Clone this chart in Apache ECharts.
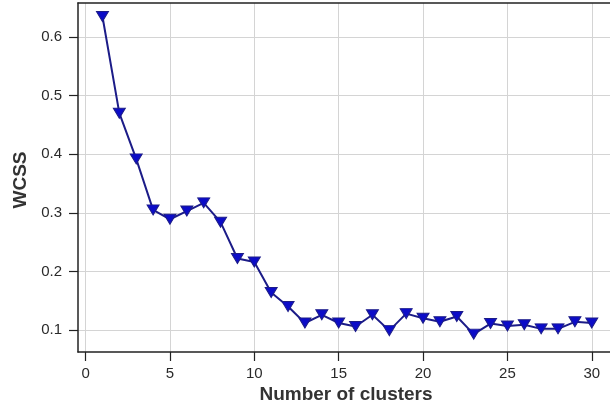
<!DOCTYPE html>
<html>
<head>
<meta charset="utf-8">
<script src="https://cdn.jsdelivr.net/npm/echarts@6/dist/echarts.min.js"></script>
<style>html,body{margin:0;padding:0;background:#fff}#c{width:610px;height:412px}</style>
</head>
<body>
<div id="c"></div>
<script>
const clusters = [1,2,3,4,5,6,7,8,9,10,11,12,13,14,15,16,17,18,19,20,21,22,23,24,25,26,27,28,29,30];
const wcss = [0.635,0.470,0.392,0.305,0.289,0.303,0.317,0.284,0.222,0.216,0.164,0.140,0.112,0.126,0.112,0.106,0.126,0.099,0.128,0.120,0.114,0.123,0.093,0.111,0.107,0.109,0.102,0.102,0.114,0.112];
const xTicks = [0,5,10,15,20,25,30];
const yTicks = [0.1,0.2,0.3,0.4,0.5,0.6];

const chart = echarts.init(document.getElementById('c'), null, {renderer:'canvas'});
chart.setOption({
  animation:false,
  backgroundColor:'#fff',
  grid:{left:78, top:3, right:0, height:349, show:false},
  xAxis:[{
    type:'value', min:-0.45, max:31.08,
    name:'Number of clusters', nameLocation:'middle', nameGap:33, nameMoveOverlap:false,
    nameTextStyle:{fontFamily:'Liberation Sans', fontSize:19, fontWeight:'bold', color:'#333', padding:[0,0,0,4]},
    axisLine:{show:true, onZero:false, lineStyle:{color:'#222', width:1.5}},
    axisTick:{show:true, length:9, customValues:xTicks, lineStyle:{color:'#222', width:1.2}},
    axisLabel:{margin:14, customValues:xTicks, fontFamily:'Liberation Sans', fontSize:15, color:'#2a2a2a'},
    splitLine:{show:true, lineStyle:{color:'#d4d4d4', width:1}}
  },{
    type:'value', position:'top', min:-0.45, max:31.08,
    axisLine:{show:true, onZero:false, lineStyle:{color:'#222', width:1.5}},
    axisTick:{show:false}, axisLabel:{show:false}, splitLine:{show:false}
  }],
  yAxis:{
    type:'value', min:0.0625, max:0.658,
    name:'WCSS', nameLocation:'middle', nameGap:48, nameRotate:90, nameMoveOverlap:false,
    nameTextStyle:{fontFamily:'Liberation Sans', fontSize:19, fontWeight:'bold', color:'#333', padding:[0,0,0,-5]},
    axisLine:{show:true, onZero:false, lineStyle:{color:'#222', width:1.5}},
    axisTick:{show:true, length:9, customValues:yTicks, lineStyle:{color:'#222', width:1.2}},
    axisLabel:{margin:16, customValues:yTicks, formatter:v=>v.toFixed(1), fontFamily:'Liberation Sans', fontSize:15, color:'#2a2a2a'},
    splitLine:{show:true, lineStyle:{color:'#d4d4d4', width:1}}
  },
  series:[{
    type:'line',
    data:clusters.map((c,i)=>[c,wcss[i]]),
    symbol:'triangle', symbolRotate:180, symbolSize:[12,10], showAllSymbol:true,
    lineStyle:{color:'#1c1c88', width:2},
    itemStyle:{color:'#0c0cc8', borderColor:'#1c1c88', borderWidth:1}
  }]
});
</script>
</body>
</html>
